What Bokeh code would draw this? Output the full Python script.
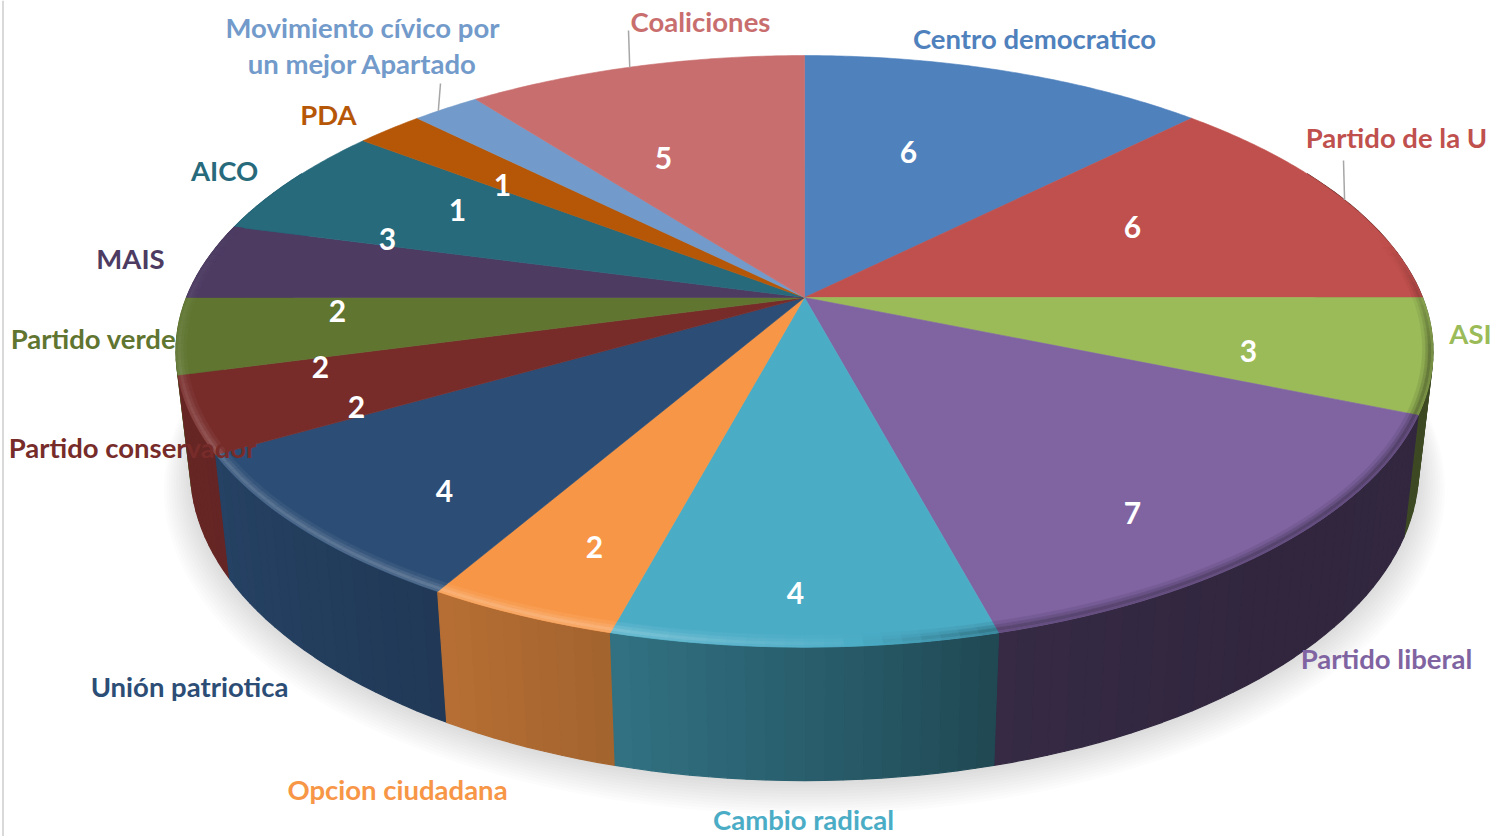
from bokeh.plotting import figure, ColumnDataSource
from bokeh.embed import file_html
from bokeh.resources import INLINE
from bokeh.core.properties import value
from bokeh.models import Range1d
import numpy as np

# ---------- data ----------
categories = ["Centro democratico", "Partido de la U", "ASI", "Partido liberal", "Cambio radical",
              "Opcion ciudadana", "Unión patriotica", "Partido conservador", "Partido verde", "MAIS",
              "AICO", "PDA", "Movimiento cívico por\nun mejor Apartado", "Coaliciones"]
values = [6, 6, 3, 7, 4, 2, 4, 2, 2, 2, 3, 1, 1, 5]
colors = ["#4f81bd", "#c0504d", "#9bbb59", "#8064a2", "#4bacc6", "#f79646", "#2c4d75",
          "#772c2a", "#5f7530", "#4d3b62", "#276a7c", "#b65708", "#729aca", "#c96e6e"]

# ---------- layout (page pixels) ----------
name_x = [1034, 1396, 1470, 1386, 803, 397, 189, 132, 93, 130, 224, 328, 362, 700]
name_y = [37.5, 136.5, 332.5, 657.5, 818.5, 788.5, 685.5, 446.5, 337.5, 257.5, 169.5, 113.5, 44.5, 20.5]
val_x = [908, 1132, 1248, 1132, 795, 594, 444, 356, 320, 337, 387, 457, 502, 663]
val_y = [151, 226, 350, 512, 592, 546, 490, 406, 366, 310, 238, 209, 184, 157]
leader_slices = {1: (1343, 160, 1.2), 12: (440, 83, -1.0), 13: (628, 30, -0.6)}
NAME_SIZE = "27.5px"
VAL_SIZE = "30px"

CX, CY = 804, 297            # top face
RX, RB, K = 618, 286, 0.182
BX, BCY, BB, BK = 604, 413, 301, 0.18   # bottom face


def top(a, r=1.0):
    t = np.radians(a)
    u, v = r*np.sin(t), r*np.cos(t)
    d = 1 + K*v
    return CX + RX*u/d, CY - RB*v/d


def bottom(a, r=1.0, dy=0.0):
    t = np.radians(a)
    u, v = r*np.sin(t), r*np.cos(t)
    d = 1 + BK*v
    return CX + BX*u/d, BCY + dy - BB*v/d


def blend(hexc, t):
    c = np.array([int(hexc[i:i+2], 16) for i in (1, 3, 5)], float)
    target = 255.0 if t > 0 else 0.0
    c = c + (target - c)*abs(t)
    return "#%02x%02x%02x" % tuple(int(round(x)) for x in c)


def wall_shade(a):
    return float(np.interp(a, [60, 90, 140, 165, 180, 195, 210, 240, 270, 300],
                           [.42, .40, .38, .42, .55, .66, .74, .85, .88, .88]))


def rim_tint(a):
    return float(np.interp(a, [78, 100, 165, 178, 195, 240, 262, 285],
                           [0, -.35, -.30, .06, .26, .20, .08, 0]))


def rim_r(a, px):
    t = np.radians(a)
    scale = np.hypot(RX*np.sin(t), (RB/(1 + K*np.cos(t)))*np.cos(t))
    return 1 - px/scale


p = figure(width=1496, height=836, x_range=Range1d(0, 1496), y_range=Range1d(836, 0),
           x_axis_type=None, y_axis_type=None, toolbar_location=None, output_backend="svg",
           min_border=0, outline_line_color=None, background_fill_color="white")
p.grid.visible = False

# frame line at the far left
p.line([2.5, 2.5], [0, 836], line_color="#d9d9d9", line_width=2)

# soft shadow
ang = np.linspace(0, 360, 241)
for r, dy in zip(np.linspace(1.042, 1.0, 12), np.linspace(15, 2, 12)):
    x, y = bottom(ang, r, dy)
    p.patch(list(x), list(y), fill_color="black", fill_alpha=0.011, line_color=None)

edges = np.cumsum([0] + values) / sum(values) * 360.0

# walls
segs = []
for i, col in enumerate(colors):
    a0, a1 = edges[i], edges[i+1]
    lo, hi = max(a0, 62), min(a1, 298)
    if hi <= lo:
        continue
    n = max(1, int((hi - lo)/1.5))
    g = np.linspace(lo, hi, n + 1)
    for s, e in zip(g[:-1], g[1:]):
        tx0, ty0 = top(s); tx1, ty1 = top(e)
        bx1, by1 = bottom(e); bx0, by0 = bottom(s)
        mid = (s + e)/2
        depth = np.cos(np.radians(mid))
        segs.append((depth, [tx0, tx1, bx1, bx0], [ty0, ty1, by1, by0], blend(col, -(1 - wall_shade(mid)))))
segs.sort(key=lambda z: -z[0])
wall = ColumnDataSource(dict(xs=[z[1] for z in segs], ys=[z[2] for z in segs], c=[z[3] for z in segs]))
p.patches("xs", "ys", source=wall, fill_color="c", line_color="c", line_width=1.2)

# top face
xs, ys = [], []
for i in range(len(values)):
    g = np.linspace(edges[i], edges[i+1], max(4, int(edges[i+1]-edges[i])*2))
    x, y = top(g)
    xs.append([CX] + list(x))
    ys.append([CY] + list(y))
p.patches(xs, ys, fill_color=colors, line_color=colors, line_width=0.6)

# bevel along the rim
bx, by, bc = [], [], []
for i, col in enumerate(colors):
    lo, hi = max(edges[i], 78), min(edges[i+1], 285)
    if hi <= lo:
        continue
    n = max(1, int((hi - lo)/1.5))
    g = np.linspace(lo, hi, n + 1)
    for s, e in zip(g[:-1], g[1:]):
        t = rim_tint((s + e)/2)
        for p0, p1, f in ((10, 7, .25), (7, 4.5, .6), (4.5, 1.5, 1.0), (1.5, 0, .7)):
            x0, y0 = top(s, rim_r(s, p0)); x1, y1 = top(e, rim_r(e, p0))
            x2, y2 = top(e, rim_r(e, p1)); x3, y3 = top(s, rim_r(s, p1))
            bx.append([x0, x1, x2, x3]); by.append([y0, y1, y2, y3])
            bc.append(blend(col, t*f))
p.patches(bx, by, fill_color=bc, line_color=bc, line_width=0.4)

# leader lines
for i, (lx, ly, da) in leader_slices.items():
    mid = (edges[i] + edges[i+1])/2 + da
    ex, ey = top(mid)
    p.line([lx, ex], [ly, ey], line_color="#a6a6a6", line_width=1.5)

# category labels
for name, x, y, c in zip(categories, name_x, name_y, colors):
    lines = name.split("\n")
    for j, line in enumerate(lines):
        yy = y + (j - (len(lines)-1)/2)*36
        p.text([x], [yy], text=[line], text_color=c, text_font=value("Lato"), text_font_style="bold",
               text_font_size=NAME_SIZE, text_align="center", text_baseline="middle")

# value labels
p.text(val_x, val_y, text=[str(v) for v in values], text_color="white", text_font=value("Lato"),
       text_font_style="bold", text_font_size=VAL_SIZE, text_align="center", text_baseline="middle")

open("out.html", "w").write(file_html(p, INLINE))
